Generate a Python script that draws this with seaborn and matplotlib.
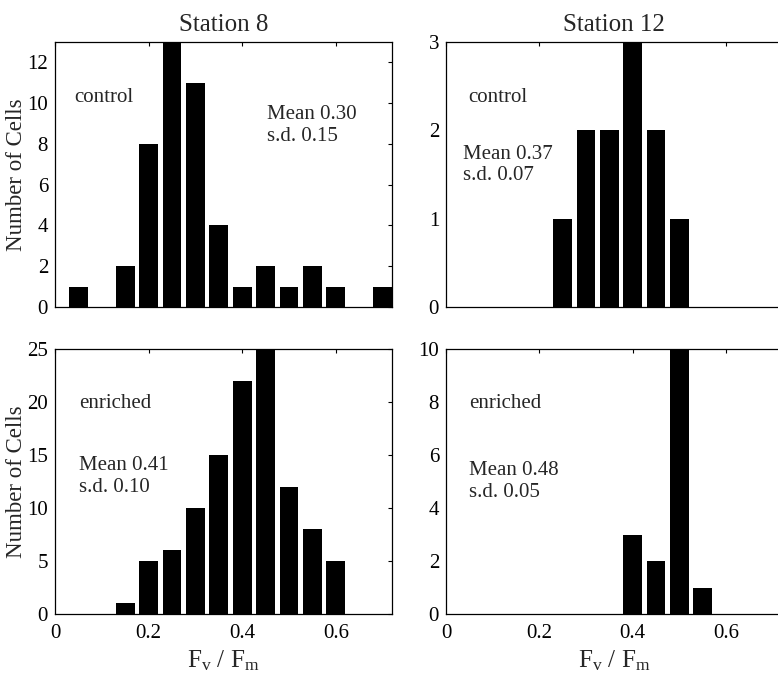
import numpy as np
import pandas as pd
import matplotlib
matplotlib.use("Agg")
import matplotlib.pyplot as plt
import seaborn as sns

# ---- data (bin centres and counts) ----
s8_ctrl_centers = [0.05, 0.10, 0.15, 0.20, 0.25, 0.30, 0.35, 0.40, 0.45, 0.50, 0.55, 0.60, 0.65, 0.70]
s8_ctrl_counts = [1, 0, 2, 8, 13, 11, 4, 1, 2, 1, 2, 1, 0, 1]
s12_ctrl_centers = [0.25, 0.30, 0.35, 0.40, 0.45, 0.50]
s12_ctrl_counts = [1, 2, 2, 3, 2, 1]
s8_enr_centers = [0.15, 0.20, 0.25, 0.30, 0.35, 0.40, 0.45, 0.50, 0.55, 0.60]
s8_enr_counts = [1, 5, 6, 10, 15, 22, 25, 12, 8, 5]
s12_enr_centers = [0.40, 0.45, 0.50, 0.55]
s12_enr_counts = [3, 2, 10, 1]

titles = ["Station 8", "Station 12"]
xticks = [0, 0.2, 0.4, 0.6]
xtick_labels = ["0", "0.2", "0.4", "0.6"]
ylims = [13, 3, 25, 10]
yticks = [[0, 2, 4, 6, 8, 10, 12], [0, 1, 2, 3], [0, 5, 10, 15, 20, 25], [0, 2, 4, 6, 8, 10]]
labels = ["control", "control", "enriched", "enriched"]
stats = ["Mean 0.30\ns.d. 0.15", "Mean 0.37\ns.d. 0.07",
         "Mean 0.41\ns.d. 0.10", "Mean 0.48\ns.d. 0.05"]
BW = 0.05

sns.set_theme(style="white")
plt.rcParams["font.family"] = ["Liberation Serif", "DejaVu Serif"]
plt.rcParams["mathtext.fontset"] = "custom"
plt.rcParams["mathtext.rm"] = "Liberation Serif"
plt.rcParams["mathtext.it"] = "Liberation Serif"

fig = plt.figure(figsize=(7.78, 6.76), dpi=100)
W, H = 778, 676

def add_ax(x0, x1, y0, y1):
    return fig.add_axes([x0 / W, 1 - y1 / H, (x1 - x0) / W, (y1 - y0) / H])

axes = [add_ax(55, 392, 42, 307), add_ax(446, 782, 42, 307),
        add_ax(55, 392, 349, 614), add_ax(446, 782, 349, 614)]

datasets = [(s8_ctrl_centers, s8_ctrl_counts), (s12_ctrl_centers, s12_ctrl_counts),
            (s8_enr_centers, s8_enr_counts), (s12_enr_centers, s12_enr_counts)]

# text positions in axes fraction
lab_pos = [(0.056, 0.792), (0.065, 0.792), (0.071, 0.796), (0.068, 0.796)]
stat_pos = [(0.629, 0.685), (0.05, 0.536), (0.071, 0.519), (0.068, 0.50)]

for i, (ax, (cen, cnt)) in enumerate(zip(axes, datasets)):
    cen = np.array(cen, dtype=float)
    lo = round(cen[0] - BW / 2, 4)
    hi = round(cen[-1] + BW / 2, 4)
    df = pd.DataFrame({"x": cen, "w": np.array(cnt, dtype=float)})
    sns.histplot(data=df, x="x", weights="w", binwidth=BW, binrange=(lo, hi),
                 shrink=0.8, color="black", edgecolor="none", alpha=1, ax=ax)
    ax.set_xlim(0, 0.72)
    ax.set_ylim(0, ylims[i])
    ax.set_yticks(yticks[i])
    ax.set_xticks(xticks)
    ax.tick_params(direction="in", length=3, width=0.8, top=True, right=True,
                   labelsize=15, colors="black")
    ax.tick_params(axis="x", pad=7)
    ax.tick_params(axis="y", pad=5)
    if i >= 2:
        ax.set_xticklabels(xtick_labels)
        ax.set_xlabel(r"$\mathrm{F_v\ /\ F_m}$", fontsize=18, labelpad=4)
    else:
        ax.set_xticklabels([])
        ax.set_xlabel("")
    if i % 2 == 0:
        ax.set_ylabel("Number of Cells", fontsize=16.5, labelpad=0)
    else:
        ax.set_ylabel("")
    for s in ax.spines.values():
        s.set_color("black")
        s.set_linewidth(0.9)
    ax.text(lab_pos[i][0], lab_pos[i][1], labels[i], transform=ax.transAxes,
            fontsize=15, va="center", ha="left")
    ax.text(stat_pos[i][0], stat_pos[i][1], stats[i], transform=ax.transAxes,
            fontsize=15, va="center", ha="left", linespacing=1.15)
    if i < 2:
        ax.set_title(titles[i], fontsize=18, pad=8)

fig.savefig("out.png", dpi=100, facecolor="white")
